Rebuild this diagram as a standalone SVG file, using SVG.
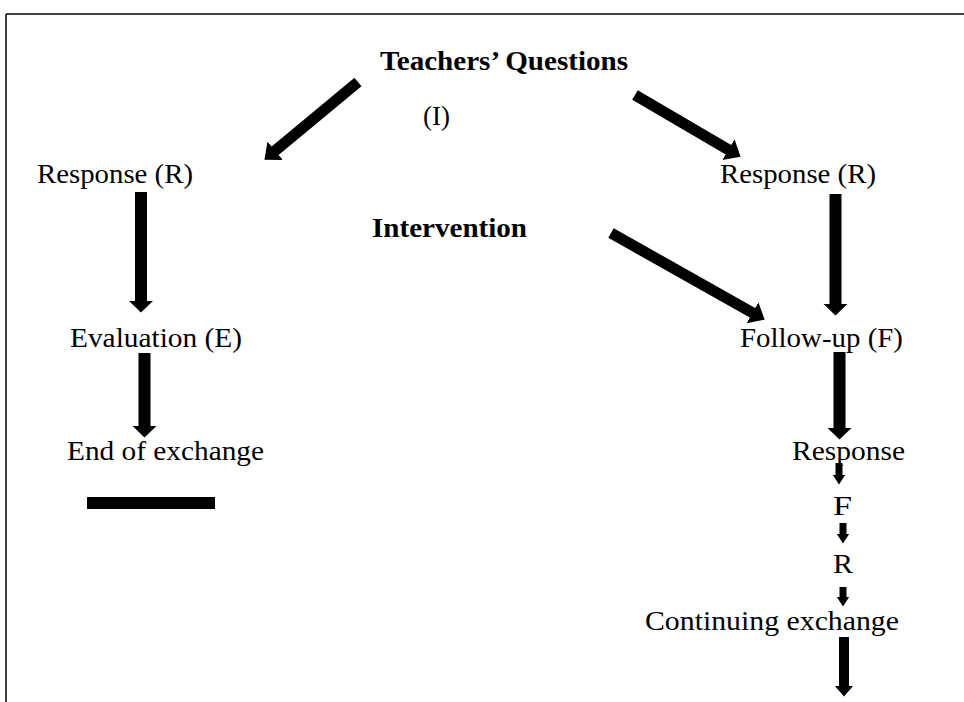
<svg xmlns="http://www.w3.org/2000/svg" width="964" height="702" viewBox="0 0 964 702">
<style>
  text { font-family: "Liberation Serif", "DejaVu Serif", serif; font-size: 28px; fill: #000; }
  .b { font-weight: bold; }
  .c line { stroke: #000; stroke-linecap: butt; fill: none; }
  .big { stroke-width: 12px; marker-end: url(#hb); }
  .diag { stroke-width: 11px; marker-end: url(#hd); }
  .mid { stroke-width: 10px; marker-end: url(#hm); }
  .small { stroke-width: 7px; marker-end: url(#hs); }
</style>
<defs>
  <marker id="hb" markerUnits="userSpaceOnUse" markerWidth="13" markerHeight="26" refX="0.5" refY="12.5" orient="auto" viewBox="0 0 13 26"><path d="M0,0 L12,12.5 L0,25 Z" fill="#000"/></marker>
  <marker id="hd" markerUnits="userSpaceOnUse" markerWidth="15" markerHeight="25" refX="0.5" refY="12" orient="auto" viewBox="0 0 15 25"><path d="M0,0 L14,12 L0,24 Z" fill="#000"/></marker>
  <marker id="hm" markerUnits="userSpaceOnUse" markerWidth="12" markerHeight="20" refX="0.5" refY="9.5" orient="auto" viewBox="0 0 12 20"><path d="M0,0 L11,9.5 L0,19 Z" fill="#000"/></marker>
  <marker id="hs" markerUnits="userSpaceOnUse" markerWidth="11" markerHeight="14" refX="0.5" refY="6.5" orient="auto" viewBox="0 0 11 14"><path d="M0,0 L10,6.5 L0,13 Z" fill="#000"/></marker>
</defs>
<rect width="964" height="702" fill="#fff"/>
<g id="frame">
  <line x1="6" y1="14" x2="964" y2="14" stroke="#000" stroke-width="1.5"/>
  <line x1="6" y1="14" x2="6" y2="702" stroke="#000" stroke-width="1.5"/>
</g>
<g id="n-teachers"><text class="b" x="380" y="70" textLength="248" lengthAdjust="spacingAndGlyphs">Teachers’ Questions</text></g>
<g id="n-initiation"><text x="423" y="125" textLength="27" lengthAdjust="spacingAndGlyphs">(I)</text></g>
<g id="n-response-left"><text x="37" y="183" textLength="156" lengthAdjust="spacingAndGlyphs">Response (R)</text></g>
<g id="n-response-right"><text x="720" y="183" textLength="156" lengthAdjust="spacingAndGlyphs">Response (R)</text></g>
<g id="n-intervention"><text class="b" x="372" y="237" textLength="155" lengthAdjust="spacingAndGlyphs">Intervention</text></g>
<g id="n-evaluation"><text x="70" y="347" textLength="172" lengthAdjust="spacingAndGlyphs">Evaluation (E)</text></g>
<g id="n-followup"><text x="740" y="347" textLength="163" lengthAdjust="spacingAndGlyphs">Follow-up (F)</text></g>
<g id="n-end"><text x="67" y="460" textLength="197" lengthAdjust="spacingAndGlyphs">End of exchange</text></g>
<g id="n-end-bar"><rect x="87" y="497" width="128" height="12" fill="#000"/></g>
<g id="n-response2"><text x="792" y="460" textLength="113" lengthAdjust="spacingAndGlyphs">Response</text></g>
<g id="n-f"><text x="833" y="515" textLength="19" lengthAdjust="spacingAndGlyphs">F</text></g>
<g id="n-r"><text x="833" y="573" textLength="20" lengthAdjust="spacingAndGlyphs">R</text></g>
<g id="n-continuing"><text x="645" y="630" textLength="254" lengthAdjust="spacingAndGlyphs">Continuing exchange</text></g>
<g id="connectors" class="c">
  <line class="diag" x1="358" y1="82" x2="274.8" y2="151.1"/>
  <line class="diag" x1="635" y1="95" x2="728.9" y2="149.9"/>
  <line class="diag" x1="611" y1="233" x2="752.9" y2="313"/>
  <line class="big" x1="141" y1="192" x2="141" y2="301"/>
  <line class="big" x1="144.5" y1="353" x2="144.5" y2="426"/>
  <line class="big" x1="835.5" y1="194" x2="835.5" y2="304"/>
  <line class="big" x1="839.5" y1="352" x2="839.5" y2="428"/>
  <line class="small" x1="839" y1="463" x2="839" y2="475"/>
  <line class="small" x1="843" y1="523" x2="843" y2="534"/>
  <line class="small" x1="843" y1="587" x2="843" y2="597"/>
  <line class="mid" x1="844" y1="637" x2="844" y2="686"/>
</g>
</svg>
